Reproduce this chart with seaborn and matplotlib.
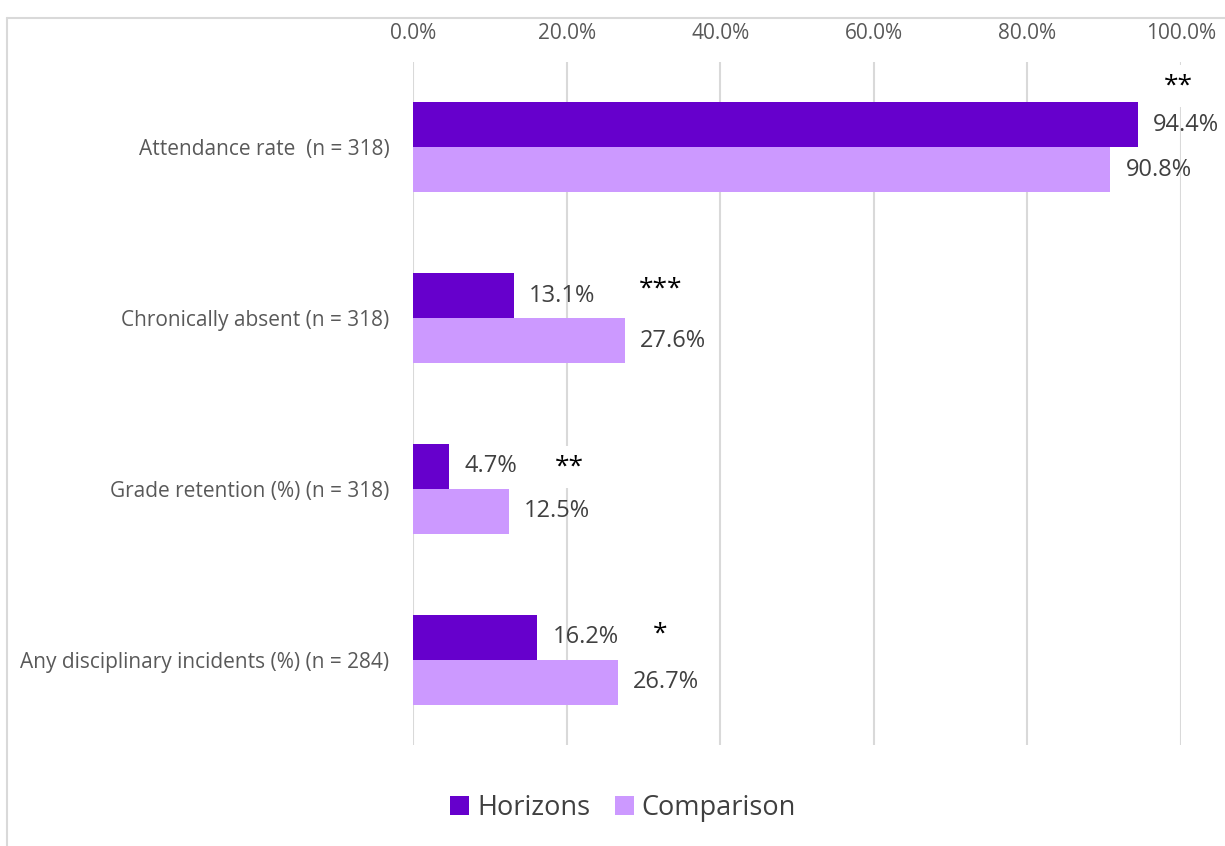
import pandas as pd
import seaborn as sns
import matplotlib.pyplot as plt
from matplotlib.lines import Line2D
from matplotlib.patches import Patch

# ----------------------------------------
# Data
# ----------------------------------------
categories = [
    "Attendance rate  (n = 318)",
    "Chronically absent (n = 318)",
    "Grade retention (%) (n = 318)",
    "Any disciplinary incidents (%) (n = 284)",
]
horizons = [94.4, 13.1, 4.7, 16.2]
comparison = [90.8, 27.6, 12.5, 26.7]
stars = ["**", "***", "**", "*"]

groups = ["Horizons", "Comparison"]
colors = {"Horizons": "#6600CC", "Comparison": "#CC99FF"}

df = pd.DataFrame({
    "outcome": categories * 2,
    "group": ["Horizons"] * len(categories) + ["Comparison"] * len(categories),
    "value": horizons + comparison,
})

# star annotation placement (x in %, y offset from category centre)
star_x = [99.6, 32.2, 20.4, 32.2]
star_dy = [-0.36, -0.17, -0.13, -0.15]

# ----------------------------------------
# Plot
# ----------------------------------------
sns.set_theme(style="white")
plt.rcParams["font.family"] = ["Open Sans", "DejaVu Sans"]

fig = plt.figure(figsize=(12.25, 8.46), dpi=100)
ax = fig.add_axes([413 / 1225, 1 - 745 / 846, 768 / 1225, 683 / 846])

sns.barplot(data=df, y="outcome", x="value", hue="group", hue_order=groups,
            palette=colors, orient="h", width=0.526, gap=0, ax=ax,
            legend=False, linewidth=0, errorbar=None, saturation=1)

for cont in ax.containers:
    ax.bar_label(cont, labels=[f"{v:.1f}%" for v in cont.datavalues],
                 padding=11, fontsize=17, color="#404040")

for i, s in enumerate(stars):
    ax.text(star_x[i], i + star_dy[i], s, ha="center", va="center",
            fontsize=19, color="black",
            bbox=dict(facecolor="white", edgecolor="none", pad=6))

ax.set_xlim(0, 100)
ax.set_ylim(3.5, -0.5)
ax.set_xticks(range(0, 101, 20))
ax.set_xticklabels([f"{t:.1f}%" for t in range(0, 101, 20)])
ax.xaxis.tick_top()
ax.tick_params(axis="x", length=0, pad=13, labelsize=15, labelcolor="#595959")
ax.tick_params(axis="y", length=0, pad=17, labelsize=15, labelcolor="#595959")
ax.set_xlabel("")
ax.set_ylabel("")
ax.grid(axis="x", color="#d9d9d9", linewidth=1.5)
ax.set_axisbelow(True)
for sp in ax.spines.values():
    sp.set_visible(False)

# legend
handles = [Patch(facecolor=colors[g], edgecolor="none") for g in groups]
fig.legend(handles, groups, loc="center", bbox_to_anchor=(623 / 1225, 1 - 808 / 846),
           ncol=2, frameon=False, fontsize=19.5, labelcolor="#404040",
           handlelength=0.7, handleheight=0.7, handletextpad=0.3, columnspacing=0.9)

# chart frame
fig.add_artist(Line2D([7 / 1225, 7 / 1225], [0, 1 - 18 / 846], color="#d9d9d9", lw=1.5))
fig.add_artist(Line2D([7 / 1225, 1], [1 - 18 / 846, 1 - 18 / 846], color="#d9d9d9", lw=1.5))

fig.savefig("out.png", dpi=100)
